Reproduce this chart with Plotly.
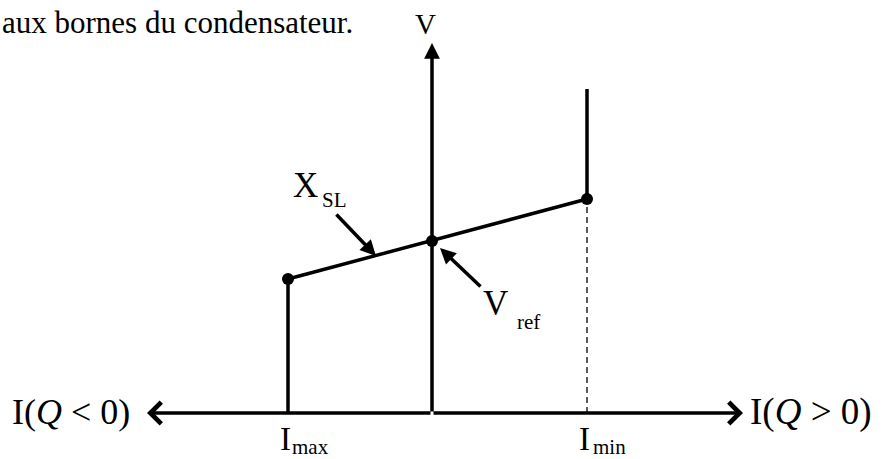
import plotly.graph_objs as go

# Caracteristique statique V(I) du compensateur (unites du schema, origine au croisement des axes)
i_knee = [-144, 0, 155]          # I_max, 0, I_min
v_knee = [134, 172, 214]         # tension aux trois points marques
v_limit_top = 324                # haut de la branche verticale a I_min
i_axis_left = -285
i_axis_right = 311
v_axis_top = 370

axis_labels = ["I(<i>Q</i> &lt; 0)", "I(<i>Q</i> &gt; 0)", "V"]
point_labels = ["I", "max", "I", "min"]
slope_label = ["X", "SL"]
ref_label = ["V", "ref"]
caption = "aux bornes du condensateur."

serif = "Liberation Serif, Times New Roman, serif"
black = "#000000"
lw = 3.5

#Create traces for the characteristic
fig = go.Figure()

# branche verticale a I_max
fig.add_trace(go.Scatter(x=[i_knee[0], i_knee[0]], y=[0, v_knee[0]], mode="lines",
                         line=dict(color=black, width=lw)))
# pente X_SL
fig.add_trace(go.Scatter(x=[i_knee[0], i_knee[2]], y=[v_knee[0], v_knee[2]], mode="lines",
                         line=dict(color=black, width=lw)))
# branche verticale au-dessus de I_min
fig.add_trace(go.Scatter(x=[i_knee[2], i_knee[2]], y=[v_knee[2], v_limit_top], mode="lines",
                         line=dict(color=black, width=lw)))
# pointille vers I_min
fig.add_trace(go.Scatter(x=[i_knee[2], i_knee[2]], y=[0, v_knee[2]], mode="lines",
                         line=dict(color=black, width=1.3, dash="6px,4px")))
# points
fig.add_trace(go.Scatter(x=i_knee, y=v_knee, mode="markers",
                         marker=dict(color=black, size=12)))

annotations = []

#Axes drawn as arrows
for tip_x, tip_y, head, size in [(i_axis_left, 0, 4, 1.2), (i_axis_right, 0, 4, 1.2),
                                 (0, v_axis_top, 2, 0.9)]:
    annotations.append(dict(x=tip_x, y=tip_y, ax=0, ay=0, xref="x", yref="y",
                            axref="x", ayref="y", text="", showarrow=True,
                            arrowhead=head, arrowsize=size, arrowwidth=lw,
                            arrowcolor=black, standoff=0, startstandoff=0))

# fleches X_SL et V_ref
annotations.append(dict(x=-56, y=157, ax=-97, ay=200, xref="x", yref="y", axref="x", ayref="y",
                        text="", showarrow=True, arrowhead=2, arrowsize=0.9, arrowwidth=lw,
                        arrowcolor=black, standoff=0))
annotations.append(dict(x=8, y=165, ax=50, ay=125, xref="x", yref="y", axref="x", ayref="y",
                        text="", showarrow=True, arrowhead=2, arrowsize=0.9, arrowwidth=lw,
                        arrowcolor=black, standoff=0))

#Text labels
def label(x, y, text, size, anchor="center"):
    annotations.append(dict(x=x, y=y, xref="x", yref="y", text=text, showarrow=False,
                            xanchor=anchor, yanchor="middle",
                            font=dict(family=serif, size=size, color=black)))

label(-361.5, 1.5, axis_labels[0], 36)
label(316, 1.5, axis_labels[1], 37, "left")
label(-7, 389.5, axis_labels[2], 29)
label(-147, -26, point_labels[0], 33)
label(-122, -34, point_labels[1], 21)
label(152, -26, point_labels[2], 33)
label(177.5, -34, point_labels[3], 21)
label(-126.5, 227.5, slope_label[0], 35)
label(-97.5, 213, slope_label[1], 21)
label(63, 109.5, ref_label[0], 35)
label(96, 91, ref_label[1], 21)
label(-432, 391, caption, 31, "left")

#Update layout for graph object Figure
fig.update_layout(width=882, height=459,
                  margin=dict(l=0, r=0, t=0, b=0),
                  paper_bgcolor="white", plot_bgcolor="white",
                  showlegend=False,
                  xaxis=dict(range=[-432, 450], visible=False, fixedrange=True),
                  yaxis=dict(range=[-46, 413], visible=False, fixedrange=True),
                  annotations=annotations)

# page sans marge pour que la figure occupe toute la fenetre
fig.write_html("out.html", config={"displayModeBar": False},
               post_script="document.body.style.margin='0px';")
